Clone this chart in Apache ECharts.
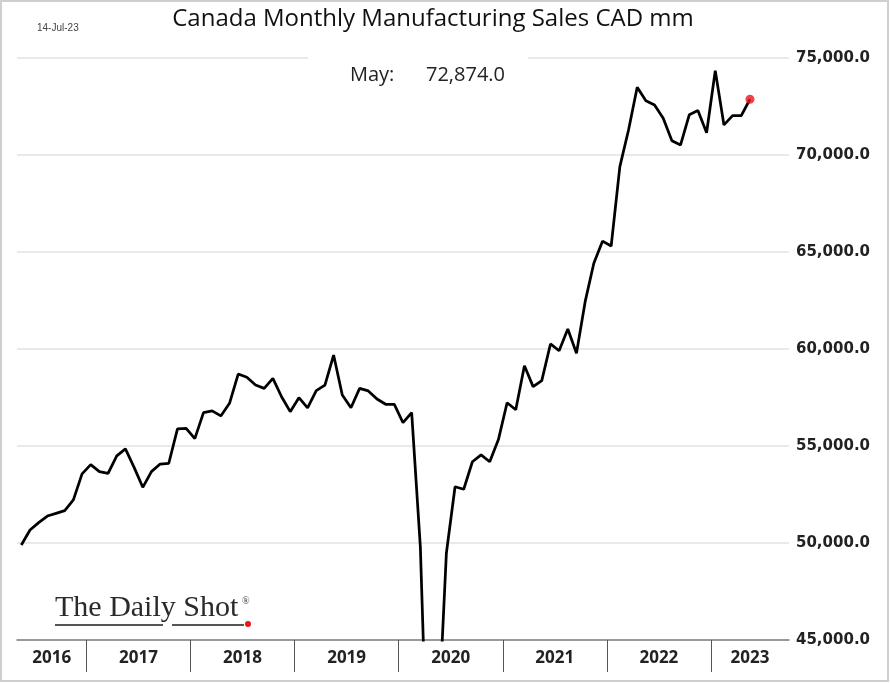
<!DOCTYPE html>
<html><head><meta charset="utf-8">
<script src="https://cdn.jsdelivr.net/npm/echarts@6/dist/echarts.min.js"></script>
<style>html,body{margin:0;padding:0;background:#fff}#c{width:890px;height:683px}</style>
</head><body><div id="c"></div>
<script>
// ---- data ----
const startYear = 2016, startMonth = 5, monthCount = 89; // axis: May 2016 .. Sep 2023
const monthNames = ['Jan','Feb','Mar','Apr','May','Jun','Jul','Aug','Sep','Oct','Nov','Dec'];
const values2016 = [49900, 50670, 51050, 51390, 51530, 51670, 52220, 53560];
const values2017 = [54040, 53680, 53590, 54490, 54850, 53900, 52870, 53680, 54070, 54110, 55880, 55910];
const values2018 = [55380, 56720, 56810, 56550, 57200, 58710, 58540, 58140, 57970, 58490, 57540, 56770];
const values2019 = [57490, 56970, 57850, 58140, 59690, 57630, 56970, 57970, 57840, 57420, 57150, 57150];
const values2020 = [56200, 56720, 49800, 35600, 40000, 49470, 52900, 52770, 54190, 54540, 54190, 55330];
const values2021 = [57230, 56870, 59140, 58060, 58370, 60260, 59910, 61030, 59780, 62440, 64420, 65560];
const values2022 = [65310, 69400, 71290, 73490, 72800, 72580, 71890, 70740, 70520, 72070, 72290, 71150];
const values2023 = [74350, 71550, 72030, 72030, 72874];
const yTicks = [45000, 50000, 55000, 60000, 65000, 70000, 75000];
const titleText = 'Canada Monthly Manufacturing Sales CAD mm';
const dateText = '14-Jul-23';

// ---- derived ----
const values = [].concat(values2016, values2017, values2018, values2019, values2020, values2021, values2022, values2023);
const months = [];
for (let i = 0; i < monthCount; i++) {
  const m0 = startMonth - 1 + i;
  const y = startYear + Math.floor(m0 / 12);
  const m = m0 % 12 + 1;
  months.push(y + '-' + String(m).padStart(2, '0'));
}
const segs = [];
months.forEach((m, i) => {
  const y = +m.slice(0, 4);
  const s = segs[segs.length - 1];
  if (!s || s.year !== y) segs.push({year: y, start: i, end: i + 1});
  else s.end = i + 1;
});
const boundaries = segs.slice(1).map(s => s.start);
const mids = segs.map(s => (s.start + s.end) / 2);
const lastIdx = values.length - 1;
const lastMonthName = monthNames[+months[lastIdx].slice(5, 7) - 1];
const fmt1 = v => v.toLocaleString('en-US', {minimumFractionDigits: 1, maximumFractionDigits: 1});

const chart = echarts.init(document.getElementById('c'));
chart.setOption({
  animation: false,
  backgroundColor: '#fff',
  grid: {left: 17, right: 101, top: 58, bottom: 43, containLabel: false},
  xAxis: [
    {type: 'category', data: months, boundaryGap: true, position: 'top', show: false},
    {type: 'value', min: 0, max: months.length, position: 'bottom',
      axisLine: {show: true, onZero: false, lineStyle: {color: '#808080', width: 1.5}},
      axisTick: {show: true, customValues: boundaries, length: 32, lineStyle: {color: '#555', width: 1}},
      axisLabel: {customValues: mids, margin: 10, fontFamily: 'Open Sans', fontWeight: 'bold', fontSize: 17, color: '#222',
        formatter: v => { const s = segs.find(s => Math.abs((s.start + s.end) / 2 - v) < 1e-6); return s ? String(s.year) : ''; }},
      splitLine: {show: false}}
  ],
  yAxis: {type: 'value', position: 'right', min: yTicks[0], max: yTicks[yTicks.length - 1], interval: yTicks[1] - yTicks[0],
    axisLine: {show: false}, axisTick: {show: false},
    splitLine: {lineStyle: {color: '#e2e2e2', width: 1.5}},
    axisLabel: {margin: 7, fontFamily: 'DejaVu Sans', fontWeight: 'bold', fontSize: 15, color: '#222', formatter: v => fmt1(v)}},
  series: [
    {type: 'line', xAxisIndex: 0, data: values, showSymbol: false, clip: true,
      lineStyle: {color: '#000', width: 2.75}, z: 3},
    {type: 'scatter', xAxisIndex: 0, data: [[lastIdx, values[lastIdx]]], symbolSize: 9,
      itemStyle: {color: '#e8141b'}, z: 5}
  ],
  graphic: [
    {type: 'rect', shape: {x: 1, y: 1, width: 887, height: 680}, style: {fill: 'none', stroke: '#cfcfcf', lineWidth: 2}, z: 1},
    {type: 'text', x: 37, y: 28, style: {text: dateText, font: '10px "Liberation Sans"', fill: '#444', textVerticalAlign: 'middle'}, z: 10},
    {type: 'text', x: 433, y: 19, style: {text: titleText, font: '24px "Open Sans"', fill: '#111', textAlign: 'center', textVerticalAlign: 'middle'}, z: 10},
    {type: 'rect', shape: {x: 308, y: 50, width: 220, height: 44}, style: {fill: '#fff'}, z: 10},
    {type: 'text', x: 350, y: 75, style: {text: lastMonthName + ':', font: '20px "Open Sans"', fill: '#222', textVerticalAlign: 'middle'}, z: 11},
    {type: 'text', x: 426, y: 75, style: {text: fmt1(values[lastIdx]), font: '20px "Open Sans"', fill: '#222', textVerticalAlign: 'middle'}, z: 11},
    {type: 'text', x: 55, y: 608, style: {text: 'The Daily Shot', font: '30px "Liberation Serif"', fill: '#2a2a2a', textVerticalAlign: 'middle'}, z: 10},
    {type: 'text', x: 242, y: 601, style: {text: '®', font: '10px "Liberation Serif"', fill: '#333', textVerticalAlign: 'middle'}, z: 10},
    {type: 'line', shape: {x1: 55, y1: 625, x2: 163, y2: 625}, style: {stroke: '#555', lineWidth: 2}, z: 10},
    {type: 'line', shape: {x1: 172, y1: 625, x2: 244, y2: 625}, style: {stroke: '#555', lineWidth: 2}, z: 10},
    {type: 'circle', shape: {cx: 248, cy: 624, r: 3}, style: {fill: '#e8141b'}, z: 10}
  ]
});
</script></body></html>
